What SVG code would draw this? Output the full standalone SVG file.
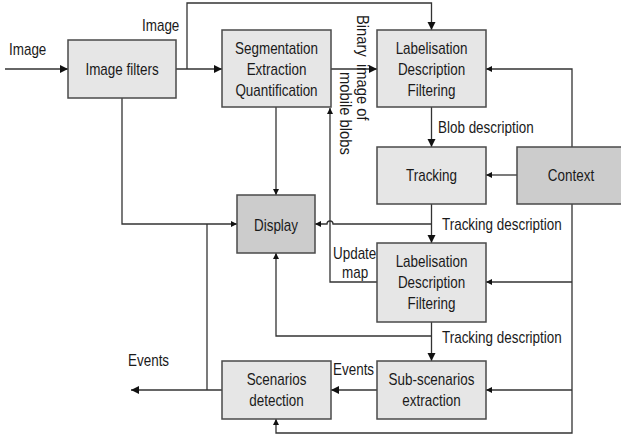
<svg xmlns="http://www.w3.org/2000/svg" width="621" height="435" viewBox="0 0 621 435">
  <style>
    .box { fill: #e6e6e6; stroke: #4a4a4a; stroke-width: 1.5; }
    .dark { fill: #cccccc; }
    .ln { fill: none; stroke: #333333; stroke-width: 1.3; }
    .t { font-family: "Liberation Sans", Arial, sans-serif; font-size: 16.4px; fill: #1a1a1a; }
    .c { text-anchor: middle; }
  </style>
  <defs>
    <marker id="big" markerUnits="userSpaceOnUse" markerWidth="9" markerHeight="9" refX="8" refY="4" orient="auto">
      <path d="M0,0 L8,4 L0,8 z" fill="#111111"/>
    </marker>
    <marker id="small" markerUnits="userSpaceOnUse" markerWidth="7" markerHeight="7" refX="6" refY="3" orient="auto">
      <path d="M0,0 L6,3 L0,6 z" fill="#111111"/>
    </marker>
  </defs>

  <!-- connectors -->
  <g id="connectors">
    <path class="ln" d="M5,69 H68" marker-end="url(#big)"/>
    <path class="ln" d="M176,69 H222" marker-end="url(#big)"/>
    <path class="ln" d="M187,69 V3 H431.5 V30" marker-end="url(#big)"/>
    <path class="ln" d="M331,69 H377" marker-end="url(#big)"/>
    <path class="ln" d="M431.5,107 V147" marker-end="url(#big)"/>
    <path class="ln" d="M122,98 V224 H237" marker-end="url(#small)"/>
    <path class="ln" d="M276,107 V195" marker-end="url(#small)"/>
    <path class="ln" d="M377,282 H330 V108" marker-end="url(#small)"/>
    <path class="ln" d="M431.5,204 V243" marker-end="url(#big)"/>
    <path class="ln" d="M431.5,224 H333 A3,3 0 0 0 327,224 H315" marker-end="url(#small)"/>
    <path class="ln" d="M431.5,322 V361" marker-end="url(#big)"/>
    <path class="ln" d="M431.5,336 H276 V253" marker-end="url(#small)"/>
    <path class="ln" d="M377,390 H331" marker-end="url(#big)"/>
    <path class="ln" d="M222,390 H131" marker-end="url(#big)"/>
    <path class="ln" d="M207,390 V224"/>
    <path class="ln" d="M572,147 V69 H486" marker-end="url(#small)"/>
    <path class="ln" d="M517,175 H486" marker-end="url(#small)"/>
    <path class="ln" d="M572,204 V433 H276 V419" marker-end="url(#small)"/>
    <path class="ln" d="M572,282 H486" marker-end="url(#small)"/>
    <path class="ln" d="M572,390 H486" marker-end="url(#small)"/>
  </g>

  <!-- connector labels -->
  <g id="labels" class="t">
    <text transform="translate(9,55) scale(0.82,1)">Image</text>
    <text transform="translate(142,31) scale(0.82,1)">Image</text>
    <text transform="translate(357,15) rotate(90) scale(0.9,1)">Binary<tspan dx="8">image of</tspan></text>
    <text transform="translate(340,72) rotate(90) scale(0.9,1)">mobile blobs</text>
    <text transform="translate(438,133) scale(0.82,1)">Blob description</text>
    <text transform="translate(442,230) scale(0.82,1)">Tracking description</text>
    <text transform="translate(333,259) scale(0.82,1)">Update</text>
    <text transform="translate(342,278) scale(0.82,1)">map</text>
    <text transform="translate(442,343) scale(0.82,1)">Tracking description</text>
    <text transform="translate(333,375) scale(0.82,1)">Events</text>
    <text transform="translate(128,366) scale(0.82,1)">Events</text>
  </g>

  <!-- nodes -->
  <g id="image-filters">
    <rect class="box" x="68" y="40" width="108" height="58"/>
    <text class="t c" transform="translate(122,75) scale(0.82,1)">Image filters</text>
  </g>
  <g id="segmentation">
    <rect class="box" x="222" y="30" width="109" height="77"/>
    <text class="t c" transform="translate(276.5,54) scale(0.82,1)"><tspan x="0">Segmentation</tspan><tspan x="0" dy="21">Extraction</tspan><tspan x="0" dy="21">Quantification</tspan></text>
  </g>
  <g id="labelisation-1">
    <rect class="box" x="377" y="30" width="109" height="77"/>
    <text class="t c" transform="translate(431.5,54) scale(0.82,1)"><tspan x="0">Labelisation</tspan><tspan x="0" dy="21">Description</tspan><tspan x="0" dy="21">Filtering</tspan></text>
  </g>
  <g id="tracking">
    <rect class="box" x="377" y="147" width="109" height="57"/>
    <text class="t c" transform="translate(431.5,181) scale(0.82,1)">Tracking</text>
  </g>
  <g id="context">
    <rect class="box dark" x="517" y="147" width="110" height="57"/>
    <text class="t c" transform="translate(571,181) scale(0.82,1)">Context</text>
  </g>
  <g id="display">
    <rect class="box dark" x="237" y="195" width="78" height="58"/>
    <text class="t c" transform="translate(276,231) scale(0.82,1)">Display</text>
  </g>
  <g id="labelisation-2">
    <rect class="box" x="377" y="243" width="109" height="79"/>
    <text class="t c" transform="translate(431.5,267) scale(0.82,1)"><tspan x="0">Labelisation</tspan><tspan x="0" dy="21">Description</tspan><tspan x="0" dy="21">Filtering</tspan></text>
  </g>
  <g id="sub-scenarios">
    <rect class="box" x="377" y="361" width="109" height="58"/>
    <text class="t c" transform="translate(431.5,385) scale(0.82,1)"><tspan x="0">Sub-scenarios</tspan><tspan x="0" dy="21">extraction</tspan></text>
  </g>
  <g id="scenarios">
    <rect class="box" x="222" y="361" width="109" height="58"/>
    <text class="t c" transform="translate(276.5,385) scale(0.82,1)"><tspan x="0">Scenarios</tspan><tspan x="0" dy="21">detection</tspan></text>
  </g>
</svg>
